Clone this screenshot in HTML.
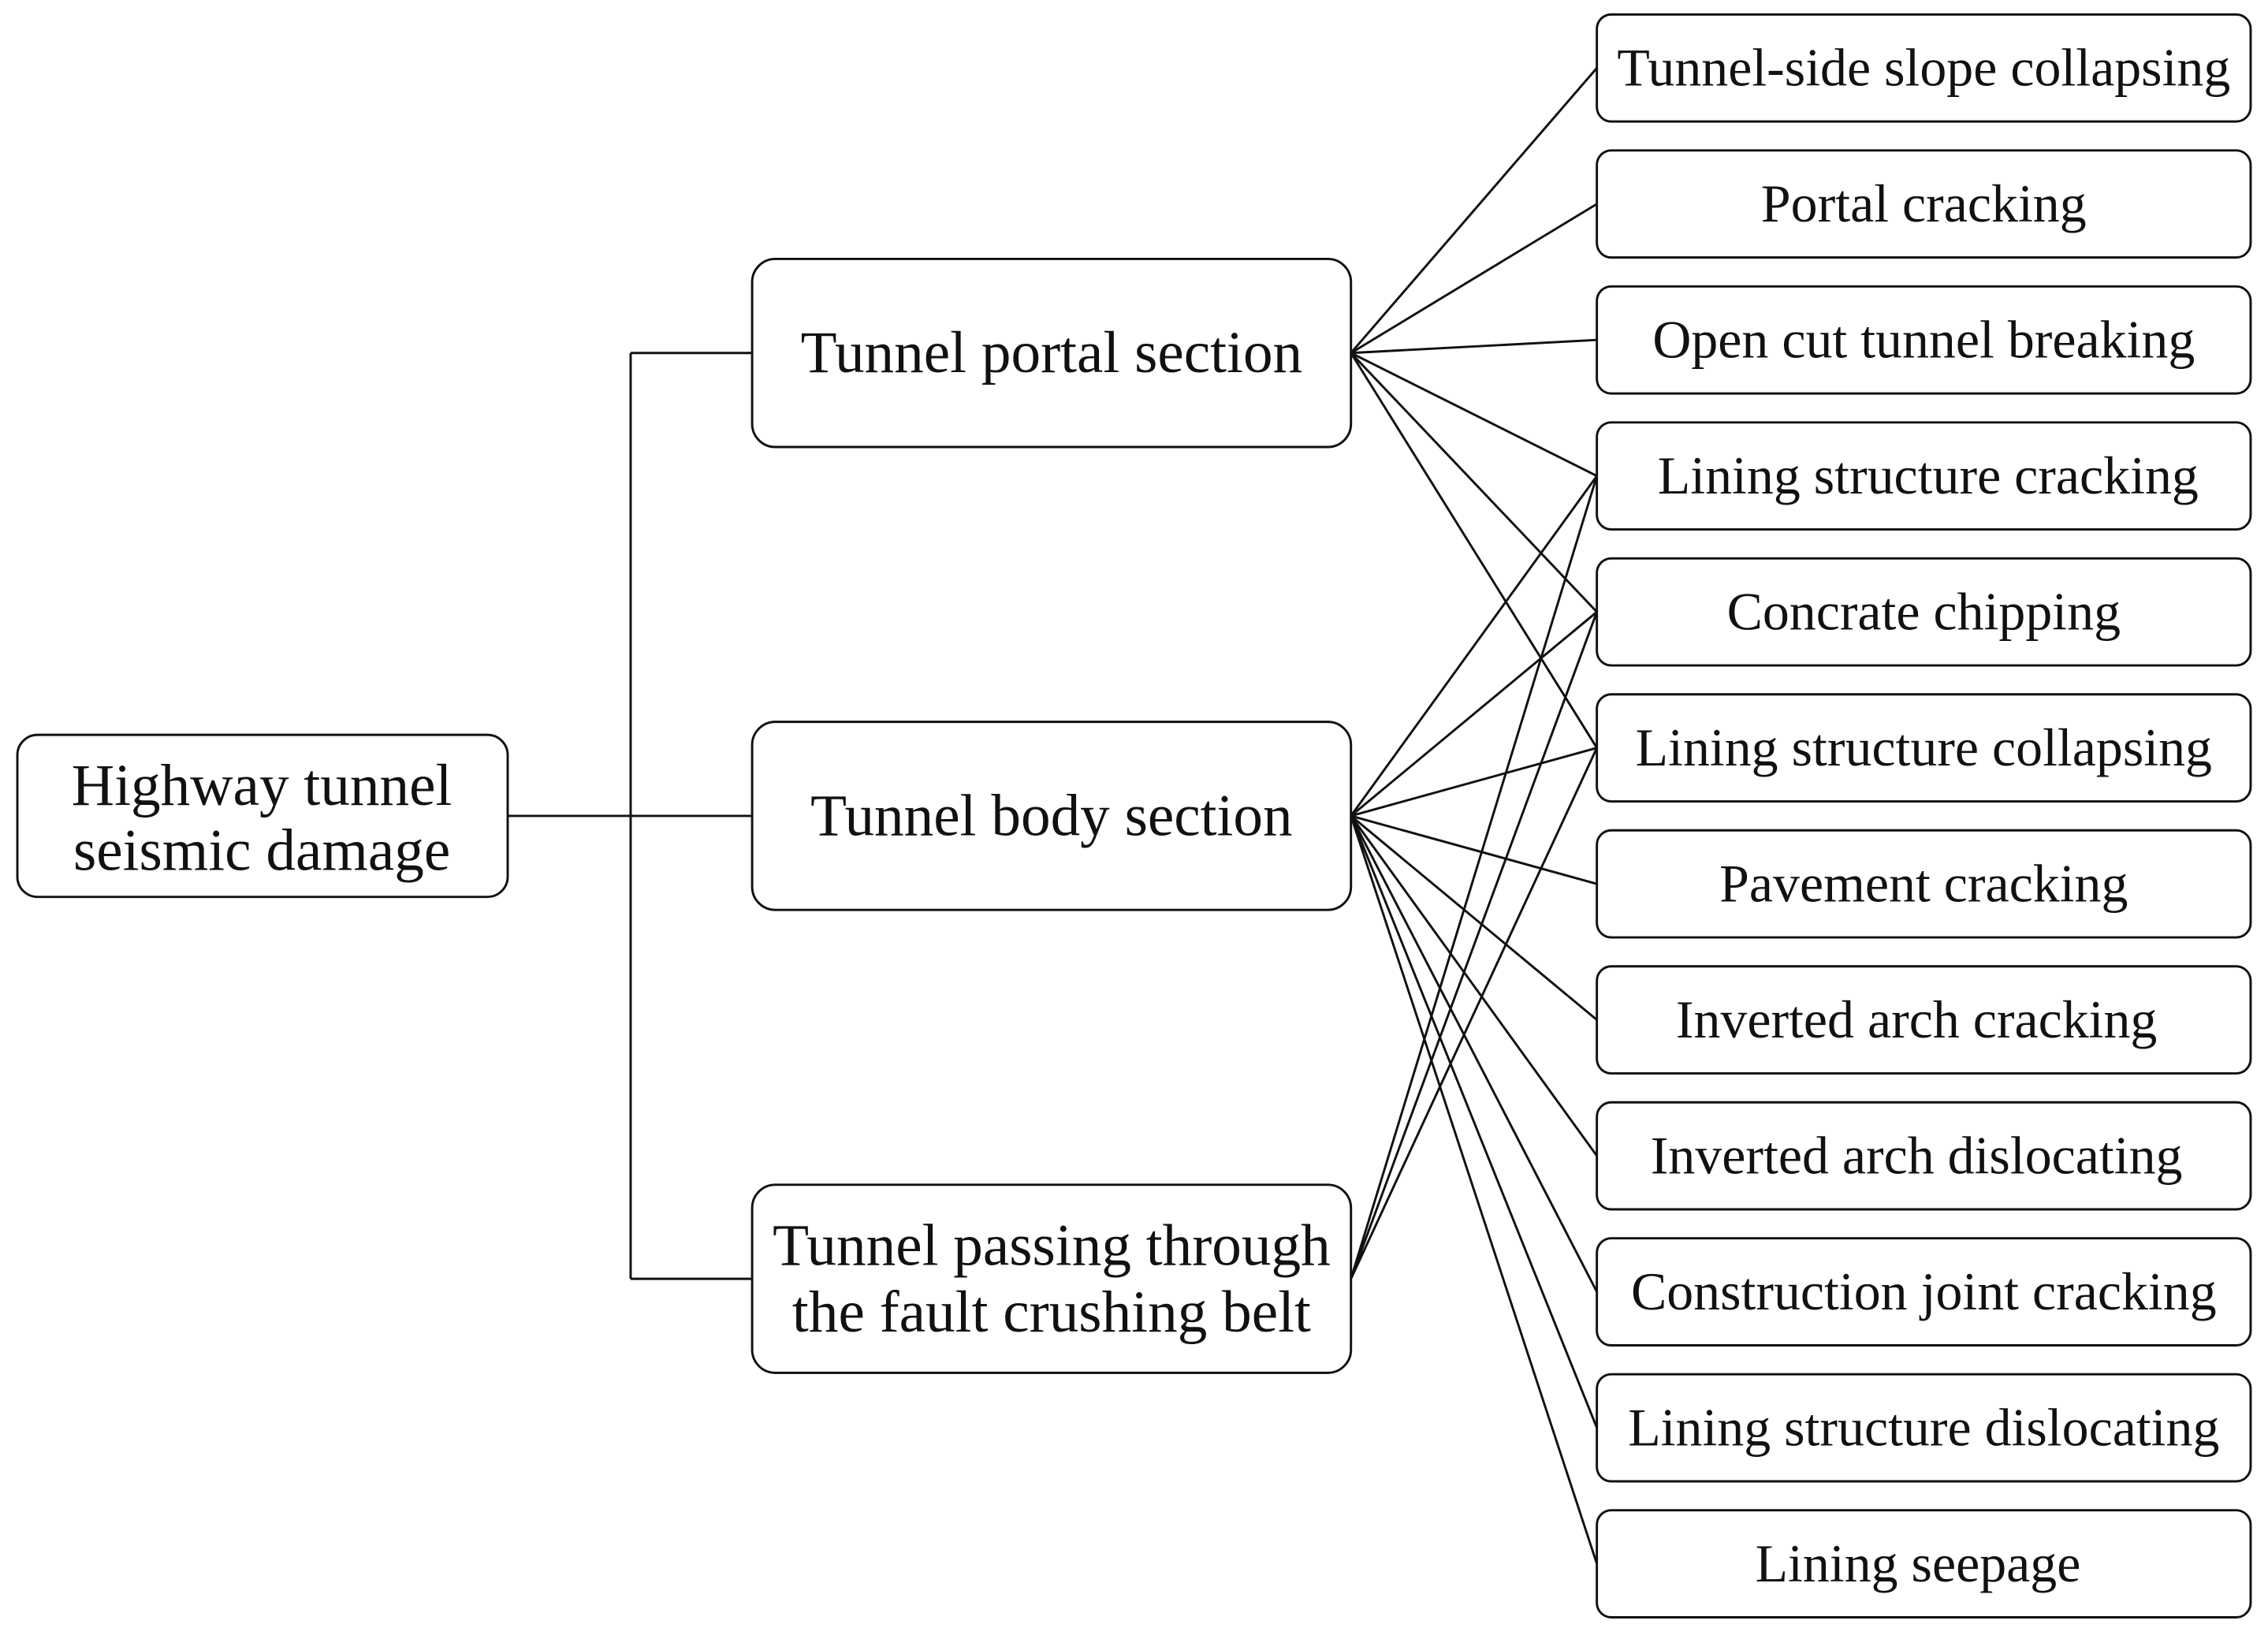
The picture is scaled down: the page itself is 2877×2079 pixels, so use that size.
<!DOCTYPE html>
<html><head><meta charset="utf-8"><style>
html,body{margin:0;padding:0;background:#fff;}
svg{display:block;}
text{font-family:"Liberation Serif",serif;font-size:37px;fill:#111;text-anchor:middle;dominant-baseline:central;}
text.b{font-size:41px;}
</style></head><body>
<svg width="2877" height="2079" viewBox="0 0 1568 1133" preserveAspectRatio="none" xmlns="http://www.w3.org/2000/svg">
<g fill="none" stroke="#111" stroke-width="1.6">
<rect x="12" y="508" width="339" height="112" rx="14"/>
<rect x="520" y="179" width="414" height="130" rx="16"/>
<rect x="520" y="499" width="414" height="130" rx="16"/>
<rect x="520" y="819" width="414" height="130" rx="16"/>
<rect x="1104" y="10" width="452" height="74" rx="10"/>
<rect x="1104" y="104" width="452" height="74" rx="10"/>
<rect x="1104" y="198" width="452" height="74" rx="10"/>
<rect x="1104" y="292" width="452" height="74" rx="10"/>
<rect x="1104" y="386" width="452" height="74" rx="10"/>
<rect x="1104" y="480" width="452" height="74" rx="10"/>
<rect x="1104" y="574" width="452" height="74" rx="10"/>
<rect x="1104" y="668" width="452" height="74" rx="10"/>
<rect x="1104" y="762" width="452" height="74" rx="10"/>
<rect x="1104" y="856" width="452" height="74" rx="10"/>
<rect x="1104" y="950" width="452" height="74" rx="10"/>
<rect x="1104" y="1044" width="452" height="74" rx="10"/>
<path d="M351 564H520M436 244V884M436 244H520M436 884H520"/>
<path d="M934 244L1104 47M934 244L1104 141M934 244L1104 235M934 244L1104 329M934 244L1104 423M934 244L1104 517"/>
<path d="M934 564L1104 329M934 564L1104 423M934 564L1104 517M934 564L1104 611M934 564L1104 705M934 564L1104 799M934 564L1104 893M934 564L1104 987M934 564L1104 1081"/>
<path d="M934 884L1104 329M934 884L1104 423M934 884L1104 517"/>
</g>
<text class="b" x="181" y="543">Highway tunnel</text>
<text class="b" x="181" y="588">seismic damage</text>
<text class="b" x="727" y="244">Tunnel portal section</text>
<text class="b" x="727" y="564">Tunnel body section</text>
<text class="b" x="727" y="861">Tunnel passing through</text>
<text class="b" x="727" y="907">the fault crushing belt</text>
<text x="1330" y="47">Tunnel-side slope collapsing</text>
<text x="1330" y="141">Portal cracking</text>
<text x="1330" y="235">Open cut tunnel breaking</text>
<text x="1333" y="329">Lining structure cracking</text>
<text x="1330" y="423">Concrate chipping</text>
<text x="1330" y="517">Lining structure collapsing</text>
<text x="1330" y="611">Pavement cracking</text>
<text x="1325" y="705">Inverted arch cracking</text>
<text x="1325" y="799">Inverted arch dislocating</text>
<text x="1330" y="893">Construction joint cracking</text>
<text x="1330" y="987">Lining structure dislocating</text>
<text x="1326" y="1081">Lining seepage</text>
</svg>
</body></html>
